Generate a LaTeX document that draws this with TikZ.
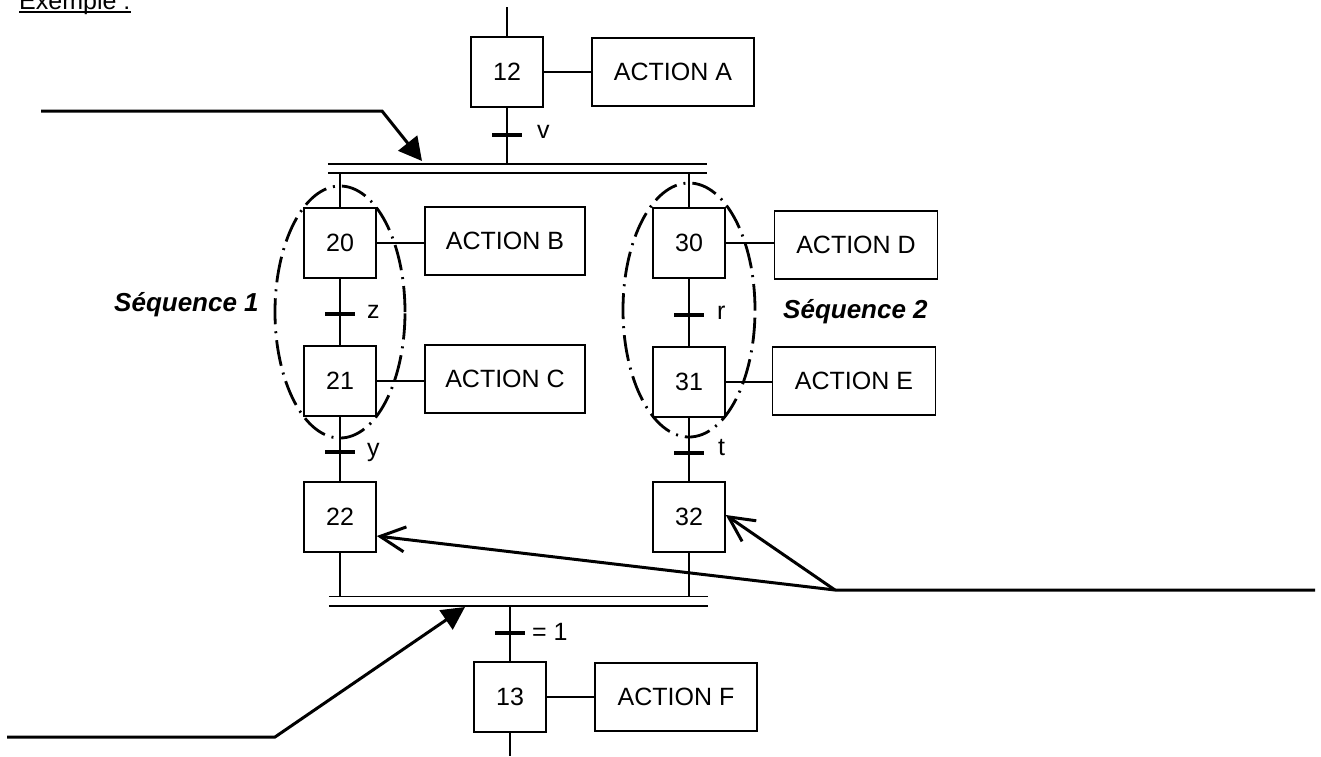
\documentclass[tikz,border=0pt]{standalone}
\usepackage{fontspec}
\setmainfont{Liberation Sans}
\usetikzlibrary{arrows.meta}
\begin{document}
\begin{tikzpicture}[x=1pt,y=-1pt,
  every node/.style={font=\fontsize{25}{30}\selectfont, inner sep=0pt},
  stepbox/.style={draw, line width=1.6pt, minimum width=72pt, minimum height=70pt},
  actbox/.style={draw, line width=1.6pt, minimum width=162pt, minimum height=68pt},
  link/.style={line width=1.5pt},
  tbar/.style={line width=4.5pt},
  dbar/.style={line width=1.6pt},
  busnode/.style={minimum width=379pt, minimum height=9pt},
  seqzone/.style={line width=2.8pt, dash pattern=on 26pt off 7pt on 2pt off 7pt},
  pointer/.style={line width=3pt, line join=miter},
  tlabel/.style={anchor=base west},
  seqlabel/.style={font=\fontsize{26}{30}\selectfont\bfseries\itshape, anchor=base west}
]
\useasboundingbox (0,0) rectangle (1321,756);

% heading
\node[anchor=base west] (ex) at (19,9) {Exemple :};
\draw[line width=1.5pt] ([yshift=-3pt]ex.base west) -- ([yshift=-3pt]ex.base east);

% steps
\node[stepbox] (s12) at (507,72)  {12};
\node[stepbox] (s20) at (340,243) {20};
\node[stepbox] (s21) at (340,381) {21};
\node[stepbox] (s22) at (340,517) {22};
\node[stepbox] (s30) at (689,243) {30};
\node[stepbox] (s31) at (689,382) {31};
\node[stepbox] (s32) at (689,517) {32};
\node[stepbox] (s13) at (510,697) {13};

% actions
\node[actbox] (aA) at (673,72) {ACTION A};
\node[actbox, minimum width=160pt] (aB) at (505,241) {ACTION B};
\node[actbox, minimum width=160pt] (aC) at (505,379) {ACTION C};
\node[actbox, minimum width=163pt] (aD) at (856,245) {ACTION D};
\node[actbox, minimum width=163pt] (aE) at (854,381) {ACTION E};
\node[actbox] (aF) at (676,697) {ACTION F};

\foreach \s/\a in {s12/aA, s20/aB, s21/aC, s30/aD, s31/aE, s13/aF}
  \draw[link] (\s.east) -- (\s.east -| \a.west);

% simultaneous divergence / convergence
\node[busnode] (div)  at (517.5,168.5) {};
\node[busnode] (conv) at (518.5,601) {};
\draw[dbar] (div.north west) -- (div.north east);
\draw[dbar] (div.south west) -- (div.south east);
\draw[dbar] (conv.north west) -- (conv.north east);
\draw[dbar] (conv.south west) -- (conv.south east);

% links between steps
\coordinate (top) at (507,7);
\coordinate (bot) at (510,756);
\draw[link] (top) -- (s12.north);
\draw[link] (s12.south) -- (s12.south |- div.north);
\draw[link] (s20.north |- div.south) -- (s20.north);
\draw[link] (s30.north |- div.south) -- (s30.north);
\draw[link] (s20.south) -- (s21.north);
\draw[link] (s21.south) -- (s22.north);
\draw[link] (s30.south) -- (s31.north);
\draw[link] (s31.south) -- (s32.north);
\draw[link] (s22.south) -- (s22.south |- conv.north);
\draw[link] (s32.south) -- (s32.south |- conv.north);
\draw[link] (s13.north |- conv.south) -- (s13.north);
\draw[link] (s13.south) -- (bot);

% transitions
\coordinate (tv) at (507,135);
\coordinate (tz) at (340,314);
\coordinate (ty) at (340,452);
\coordinate (tr) at (689,315);
\coordinate (tt) at (689,453);
\coordinate (t1) at (510,633);
\foreach \t in {tv,tz,ty,tr,tt,t1}
  \draw[tbar] ([xshift=-15pt]\t) -- ([xshift=15pt]\t);
\node[tlabel] (lv) at ([xshift=30pt,yshift=-3pt]tv) {v};
\node[tlabel] (lz) at ([xshift=27pt,yshift=-4pt]tz) {z};
\node[tlabel] (ly) at ([xshift=27pt,yshift=-4pt]ty) {y};
\node[tlabel] (lr) at ([xshift=28pt,yshift=-4pt]tr) {r};
\node[tlabel] (lt) at ([xshift=29pt,yshift=-2pt]tt) {t};
\node[tlabel] (l1) at ([xshift=22pt,yshift=-7pt]t1) {= 1};

% sequences
\draw[seqzone] (340,312) ellipse [x radius=65pt, y radius=126pt];
\draw[seqzone] (689,310) ellipse [x radius=66pt, y radius=127pt];
\node[seqlabel] (q1) at (114,311) {Séquence 1};
\node[seqlabel] (q2) at (783,318) {Séquence 2};

% pointers
\coordinate (p1a) at (41,111);
\coordinate (p1b) at (382,111);
\coordinate (p1c) at (422,161);
\draw[pointer, -{Triangle[length=23pt,width=24pt]}] (p1a) -- (p1b) -- (p1c);

\coordinate (p2a) at (7,737);
\coordinate (p2b) at (275,737);
\coordinate (p2c) at (465,607);
\draw[pointer, -{Triangle[length=23pt,width=23pt]}] (p2a) -- (p2b) -- (p2c);

\coordinate (p3a) at (1315,590);
\coordinate (p3b) at (835,590);
\draw[pointer, -{Straight Barb[length=25pt,width=25pt]}] (p3a) -- (p3b) -- ([yshift=-19pt]s22.east);
\draw[pointer, -{Straight Barb[length=25pt,width=25pt]}] (p3b) -- ([yshift=2pt]s32.east);
\end{tikzpicture}
\end{document}
